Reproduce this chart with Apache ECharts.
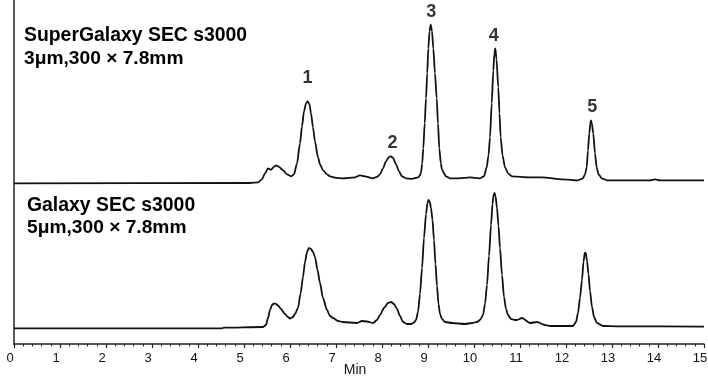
<!DOCTYPE html>
<html>
<head>
<meta charset="utf-8">
<script src="https://cdn.jsdelivr.net/npm/echarts@6/dist/echarts.min.js"></script>
<style>
html,body{margin:0;padding:0;background:#fff;}
#chart{width:708px;height:377px;}
</style>
</head>
<body>
<div id="chart"></div>
<script>
// x-axis ticks (minutes)
const xTicks = [0,1,2,3,4,5,6,7,8,9,10,11,12,13,14,15];

// Galaxy SEC s3000 (lower chromatogram): retention time (min) and signal
const lowerTime = [0,4.52,4.565,5.413,5.478,5.522,5.565,5.609,5.652,5.696,5.739,5.804,5.891,5.957,6.0,6.065,6.109,6.174,6.228,6.283,6.326,6.370,6.413,6.457,6.5,6.543,6.598,6.652,6.717,6.804,6.870,6.935,7.043,7.152,7.304,7.457,7.565,7.674,7.804,7.891,7.957,8.043,8.130,8.196,8.261,8.326,8.391,8.457,8.543,8.630,8.696,8.739,8.783,8.826,8.870,8.913,8.957,8.989,9.011,9.039,9.065,9.098,9.130,9.163,9.196,9.228,9.261,9.304,9.370,9.522,9.804,9.957,10.065,10.130,10.196,10.239,10.283,10.326,10.370,10.402,10.426,10.446,10.467,10.5,10.533,10.565,10.609,10.652,10.696,10.739,10.804,10.891,10.935,11.043,11.217,11.370,11.543,11.652,12.152,12.217,12.261,12.304,12.348,12.380,12.407,12.430,12.457,12.489,12.522,12.565,12.609,12.674,12.804,13.13,15];
const lowerSignal = [15.7,15.7,16.4,17,19,26,34,39,40.5,40,38.5,35,30,27,25.5,27,30,36,50,67,82,92,96,95,92,87,74,61,46,34,28,26,23,22,21.5,21,23,22.5,21,24,29,36,41,42,40,35,28,22,20,20,21.5,24,32,50,76,106,130,141,144,142,136,124,104,80,58,40,30,25,22,21,20,21,22,24,29,40,59,88,119,140,149,151,148,136,118,96,69,47,35,29,25,24,24,26,21,22,19,18,18,22,31,46,64,82,91,91,83,70,53,37,27,21,18,17.7,17.3];

// SuperGalaxy SEC s3000 (upper chromatogram): retention time (min) and signal above its baseline
const upperTime = [0,5.130,5.304,5.391,5.457,5.522,5.587,5.652,5.696,5.761,5.848,5.935,6.022,6.087,6.152,6.217,6.261,6.304,6.348,6.385,6.424,6.457,6.5,6.543,6.609,6.652,6.717,6.804,6.870,7.0,7.152,7.413,7.522,7.630,7.804,7.891,7.957,8.022,8.087,8.152,8.196,8.239,8.304,8.370,8.435,8.522,8.652,8.789,8.826,8.848,8.874,8.898,8.928,8.957,8.983,9.007,9.033,9.059,9.087,9.115,9.152,9.189,9.217,9.246,9.278,9.304,9.333,9.391,9.478,9.630,9.804,9.913,10.022,10.130,10.217,10.276,10.315,10.348,10.385,10.420,10.443,10.463,10.489,10.528,10.554,10.580,10.620,10.674,10.739,10.826,11.217,11.478,11.935,12.261,12.370,12.413,12.450,12.478,12.507,12.528,12.543,12.561,12.593,12.630,12.667,12.707,12.776,12.891,13.826,13.935,14.043,15];
const upperSignal = [0,0.3,1,4,10,15,13.5,16.5,18,16.5,13,9,7,9,20,40,57,72,80,82,79,70,56,42,26,19,13,9,7,5.5,5,6,8,7,5,6.5,9,15,22,26.5,27,25.5,19,12,7,5,4.5,6,8,11,20,35,60,85,110,135,152,158.7,152,135,110,85,60,35,20,14,11,7,5,5,5.5,6,5.5,5,7,16,28,46,80,113,130,135,124,96,70,46,28,16,10,7,6,6,4,3,5,9,16,33,50,60,63,60,50,30,16,9,5,3,3,4,3,3];
const upperOffset = 160.7;

// numbered peaks on the upper chromatogram
const peakNames = ['1','2','3','4','5'];
const peakTimes = [6.38,8.23,9.07,10.43,12.57];
const peakHeights = [82,27,158.7,135,63];

// column descriptions
const upperTitle = ['SuperGalaxy SEC s3000','3μm,300 × 7.8mm'];
const lowerTitle = ['Galaxy SEC s3000','5μm,300 × 7.8mm'];

const chart = echarts.init(document.getElementById('chart'));
const lowerData = lowerTime.map((t,i)=>[t, lowerSignal[i]]);
const upperData = upperTime.map((t,i)=>[t, upperSignal[i] + upperOffset]);
const labelGaps = [14,4,4,3,4];
const peakData = peakTimes.map((t,i)=>({
  value:[t, peakHeights[i] + upperOffset],
  label:{show:true, formatter:peakNames[i], position:'top', distance:labelGaps[i]}
}));

const lineStyle = {color:'#111', width:1.8};
const fontFam = 'Liberation Sans, Arial, sans-serif';

chart.setOption({
  animation:false,
  grid:{left:14, right:4, top:0, bottom:33, outerBoundsMode:'none', containLabel:false},
  xAxis:{
    type:'value', min:xTicks[0], max:xTicks[xTicks.length-1], interval:1,
    name:'Min', nameLocation:'middle', nameGap:19, nameMoveOverlap:false,
    nameTextStyle:{color:'#111', fontSize:14, fontFamily:fontFam, padding:[0,8,0,0], verticalAlign:'top'},
    axisLine:{lineStyle:{color:'#222', width:1.5}},
    axisTick:{length:4, lineStyle:{color:'#222', width:1.2}},
    minorTick:{show:true, splitNumber:5, length:2.5, lineStyle:{color:'#222', width:1}},
    axisLabel:{color:'#111', fontSize:13, fontFamily:fontFam, margin:8, padding:[0,8,0,0]},
    splitLine:{show:false}
  },
  yAxis:{
    type:'value', min:0, max:344,
    axisLine:{show:true, lineStyle:{color:'#222', width:1.5}},
    axisTick:{show:false}, axisLabel:{show:false}, splitLine:{show:false}
  },
  series:[
    {type:'line', data:upperData, showSymbol:false, smooth:0.25, smoothMonotone:'x', lineStyle:lineStyle},
    {type:'line', data:lowerData, showSymbol:false, smooth:0.25, smoothMonotone:'x', lineStyle:lineStyle},
    {type:'scatter', data:peakData, symbolSize:0,
     label:{color:'#000', fontSize:18, fontWeight:'bold', fontFamily:fontFam}}
  ],
  graphic:[
    {type:'text', left:24, top:26, style:{text:upperTitle[0], fill:'#000', font:'bold 19.4px '+fontFam}},
    {type:'text', left:24, top:49, style:{text:upperTitle[1], fill:'#000', font:'bold 19.2px '+fontFam}},
    {type:'text', left:27, top:196, style:{text:lowerTitle[0], fill:'#000', font:'bold 19.4px '+fontFam}},
    {type:'text', left:27, top:218, style:{text:lowerTitle[1], fill:'#000', font:'bold 19.2px '+fontFam}}
  ]
});
</script>
</body>
</html>
